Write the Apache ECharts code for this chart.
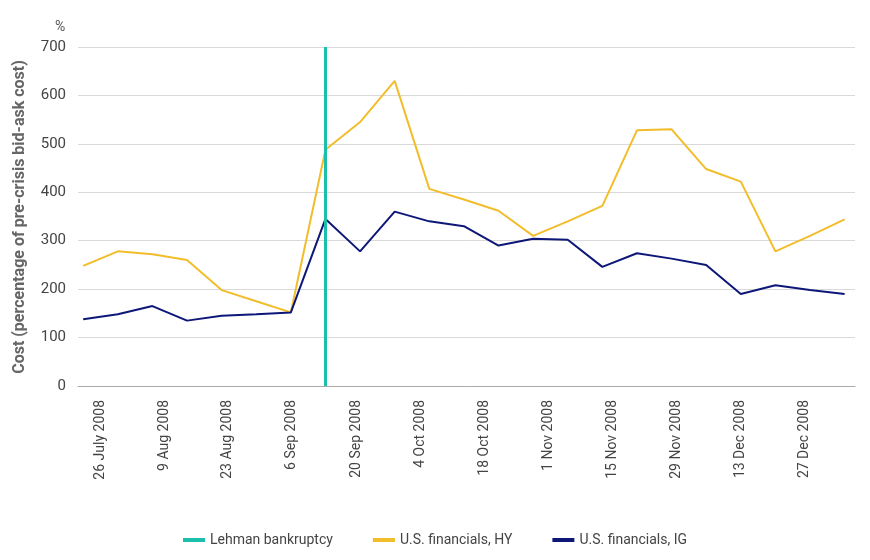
<!DOCTYPE html>
<html><head><meta charset="utf-8">
<script src="https://cdn.jsdelivr.net/npm/echarts@6/dist/echarts.min.js"></script>
<style>html,body{margin:0;padding:0;background:#fff}#c{width:870px;height:560px}</style>
</head><body><div id="c"></div>
<script>
const tickLabels = ["26 July 2008","9 Aug 2008","23 Aug 2008","6 Sep 2008","20 Sep 2008","4 Oct 2008","18 Oct 2008","1 Nov 2008","15 Nov 2008","29 Nov 2008","13 Dec 2008","27 Dec 2008"];
const tickPositions = [0.5,2.34,4.17,6.01,7.9,9.75,11.6,13.45,15.3,17.15,19.0,20.85];
const hy = [248,278,272,260,198,175,152,488,545,630,407,385,362,310,340,372,528,530,448,422,278,310,344];
const ig = [138,148,165,135,145,148,152,345,278,360,340,330,290,304,302,246,274,263,250,190,208,198,190];
const lehmanIndex = 7;
const toPts = a => a.map((v,i)=>[i,v]);
const chart = echarts.init(document.getElementById('c'));
const font = 'Roboto';
chart.setOption({
  textStyle:{fontFamily:font},
  grid:{left:78,right:15,top:47,bottom:174},
  legend:{bottom:8,left:'center',itemWidth:22,itemHeight:4,itemGap:40,icon:'rect',
    textStyle:{fontSize:14,color:'#444',fontFamily:font},
    data:['Lehman bankruptcy','U.S. financials, HY','U.S. financials, IG']},
  graphic:[
    {type:'text',left:55,top:20,style:{text:'%',fontSize:14,fill:'#555',fontFamily:font}},
    {type:'text',x:12,y:217,rotation:Math.PI/2,style:{text:'Cost (percentage of pre-crisis bid-ask cost)',fontSize:16,fontWeight:'bold',fill:'#666',fontFamily:font,align:'center',verticalAlign:'top'}}
  ],
  xAxis:{type:'value',min:-0.15,max:22.3,
    axisLine:{show:true,lineStyle:{color:'#aaa'}},axisTick:{show:false},splitLine:{show:false},
    axisLabel:{customValues:tickPositions,rotate:90,fontSize:14,color:'#444',margin:14,
      formatter:v=>tickLabels[tickPositions.indexOf(v)]||''}},
  yAxis:{type:'value',min:0,max:700,interval:100,
    axisLabel:{fontSize:15,color:'#444',margin:12},
    axisLine:{show:false},axisTick:{show:false},
    splitLine:{lineStyle:{color:'#d9d9d9'}}},
  series:[
    {name:'Lehman bankruptcy',type:'line',data:[],itemStyle:{color:'#1cbfa9'},lineStyle:{width:3},
      markLine:{symbol:'none',silent:true,label:{show:false},lineStyle:{color:'#1cbfa9',width:3,type:'solid'},
        data:[[{coord:[lehmanIndex,0]},{coord:[lehmanIndex,700]}]]}},
    {name:'U.S. financials, HY',type:'line',data:toPts(hy),symbol:'none',itemStyle:{color:'#f2bd2b'},lineStyle:{width:2,color:'#f2bd2b'}},
    {name:'U.S. financials, IG',type:'line',data:toPts(ig),symbol:'none',itemStyle:{color:'#0c1778'},lineStyle:{width:2,color:'#0c1778'}}
  ]
});
</script></body></html>
